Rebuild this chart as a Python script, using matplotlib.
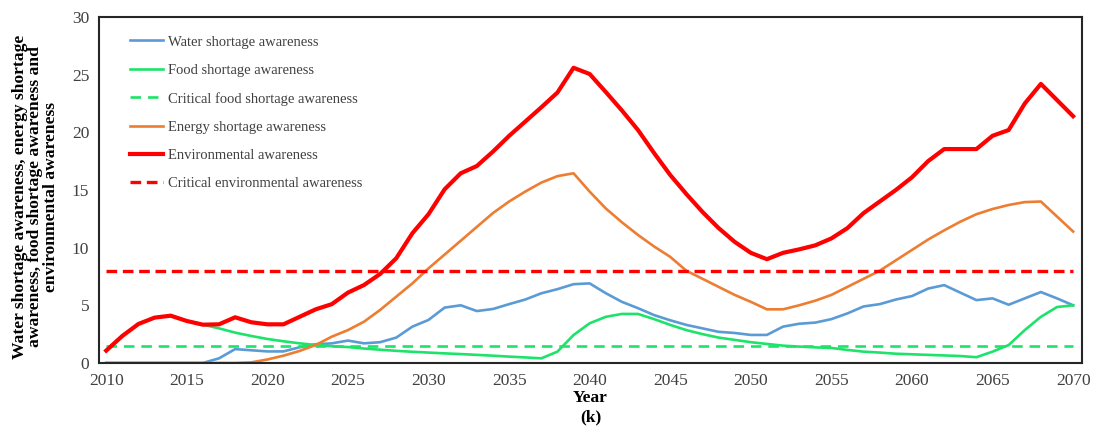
import numpy as np
import matplotlib
matplotlib.use("Agg")
import matplotlib.pyplot as plt

plt.rcParams['font.family'] = ['Liberation Serif', 'DejaVu Serif']

#--------------------------------------------------------------------data
years = list(range(2010, 2071))

water = [0, 0, 0, 0, 0, 0, 0, 0.4, 1.2, 1.1,
         1.0, 1.0, 1.36, 1.62, 1.7, 1.94, 1.7, 1.8, 2.2, 3.15,
         3.73, 4.8, 5.0, 4.5, 4.68, 5.1, 5.5, 6.04, 6.4, 6.83,
         6.9, 6.05, 5.3, 4.75, 4.15, 3.7, 3.3, 3.0, 2.7, 2.6,
         2.43, 2.43, 3.15, 3.4, 3.5, 3.8, 4.3, 4.9, 5.1, 5.5,
         5.8, 6.45, 6.75, 6.1, 5.45, 5.6, 5.05, 5.6, 6.15, 5.6,
         5.0]

food = [1.07, 2.34, 3.38, 3.93, 4.1, 3.64, 3.32, 3.0, 2.63, 2.34,
        2.08, 1.88, 1.7, 1.56, 1.45, 1.38, 1.25, 1.15, 1.05, 0.97,
        0.9, 0.83, 0.77, 0.7, 0.63, 0.55, 0.48, 0.4, 0.98, 2.42,
        3.44, 4.0, 4.25, 4.25, 3.8, 3.3, 2.85, 2.5, 2.2, 2.0,
        1.8, 1.65, 1.5, 1.42, 1.35, 1.3, 1.13, 0.98, 0.9, 0.8,
        0.75, 0.7, 0.65, 0.6, 0.5, 0.98, 1.55, 2.85, 4.0, 4.85,
        5.0]

energy = [0, 0, 0, 0, 0, 0, 0, 0, 0, 0.05,
          0.3, 0.63, 1.04, 1.56, 2.28, 2.85, 3.58, 4.6, 5.75, 6.9,
          8.2, 9.4, 10.6, 11.8, 13.0, 14.0, 14.86, 15.64, 16.2, 16.45,
          14.86, 13.4, 12.2, 11.1, 10.1, 9.2, 8.0, 7.3, 6.6, 5.9,
          5.3, 4.65, 4.65, 5.0, 5.4, 5.9, 6.6, 7.3, 8.0, 8.9,
          9.8, 10.7, 11.5, 12.25, 12.9, 13.35, 13.7, 13.95, 14.0, 12.7,
          11.4]

environment = [1.07, 2.34, 3.38, 3.93, 4.1, 3.64, 3.32, 3.35, 3.96, 3.53,
               3.35, 3.35, 4.0, 4.65, 5.1, 6.1, 6.76, 7.72, 9.08, 11.25,
               12.9, 15.06, 16.45, 17.08, 18.33, 19.69, 20.93, 22.17, 23.45, 25.6,
               25.06, 23.5, 21.9, 20.2, 18.2, 16.3, 14.65, 13.1, 11.7, 10.5,
               9.55, 9.0, 9.55, 9.85, 10.2, 10.8, 11.7, 13.0, 14.0, 15.0,
               16.1, 17.5, 18.55, 18.55, 18.55, 19.7, 20.2, 22.5, 24.2, 22.8,
               21.4]

critical_food = 1.5
critical_env = 8.0

#--------------------------------------------------------------------figure
fig = plt.figure(figsize=(10.97, 4.26), dpi=100)
ax = fig.add_axes([0.0902, 0.148, 0.8961, 0.812])

ax.plot(years, water, color='#5B9BD5', lw=1.9, label='Water shortage awareness')
ax.plot(years, food, color='#1EE36A', lw=1.9, label='Food shortage awareness')
ax.plot(years, [critical_food] * len(years), color='#1EE36A', lw=1.9,
        dashes=(4, 2.6), label='Critical food shortage awareness')
ax.plot(years, energy, color='#ED7D31', lw=1.9, label='Energy shortage awareness')
ax.plot(years, environment, color='#FF0000', lw=3.0, label='Environmental awareness')
ax.plot(years, [critical_env] * len(years), color='#FF0000', lw=2.4,
        dashes=(3.2, 1.7), label='Critical environmental awareness')

ax.set_xlim(2009.55, 2070.55)
ax.set_ylim(0, 30)
ax.set_xticks(range(2010, 2071, 5))
ax.set_yticks(range(0, 31, 5))
ax.tick_params(length=0, labelsize=12.5, colors='#404040', pad=7)

for s in ax.spines.values():
    s.set_linewidth(1.5)
    s.set_color('#262626')

#---multi-line bold y title, anchored just left of the tick labels
ax.set_ylabel('Water shortage awareness, energy shortage\n'
              'awareness, food shortage awareness and\n'
              'environmental awareness',
              fontsize=12.6, fontweight='bold', linespacing=0.93)
ax.yaxis.set_label_coords(-0.041, 0.48)
ax.set_xlabel('Year\n(k)', fontsize=12.5, fontweight='bold', linespacing=1.25, labelpad=1)

leg = ax.legend(loc='upper left', bbox_to_anchor=(0.018, 0.985), frameon=False,
                fontsize=10.5, handlelength=2.3, handletextpad=0.3, labelspacing=1.03)
for t in leg.get_texts():
    t.set_color('#404040')

fig.savefig('out.png', dpi=100)
